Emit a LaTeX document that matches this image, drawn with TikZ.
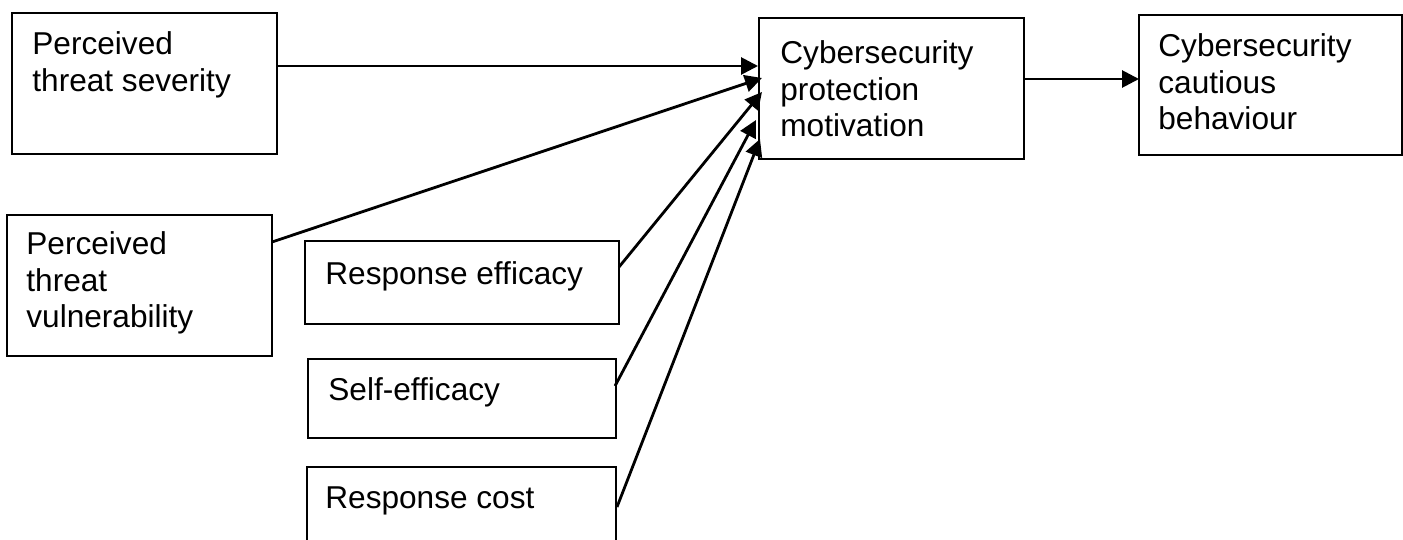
\documentclass[tikz,border=0pt]{standalone}
\usepackage{fontspec}
\setmainfont{Liberation Sans}
\usetikzlibrary{arrows.meta}
\newcommand{\boxfont}{\fontsize{15.8pt}{18.4pt}\selectfont}
\tikzset{
  box/.style={draw, line width=1pt, inner sep=0pt, outer sep=0pt, anchor=north west},
  txt/.style={anchor=north west, inner sep=0pt, align=left, font=\boxfont},
  link/.style={line width=1.4pt, -{Triangle[length=8.5pt,width=8.5pt]}}
}
\begin{document}
\begin{tikzpicture}[x=0.5pt, y=-0.5pt]
  \fill[white] (0,0) rectangle (1403,540);
  \useasboundingbox (0,0) rectangle (1403,540);
  \clip (0,0) rectangle (1403,540);

  % boxes
  \node[box, minimum width=132.5pt, minimum height=70.5pt] (sev) at (12,13) {};
  \node[box, minimum width=132.5pt, minimum height=70.5pt] (vul) at (7,215) {};
  \node[box, minimum width=157pt, minimum height=41.5pt] (reff) at (305,241) {};
  \node[box, minimum width=154pt, minimum height=39.5pt] (seff) at (308,359) {};
  \node[box, minimum width=154.5pt, minimum height=60pt] (cost) at (307,467) {};
  \node[box, minimum width=132.5pt, minimum height=70.5pt] (mot) at (759,18) {};
  \node[box, minimum width=131.5pt, minimum height=70pt] (beh) at (1139,15) {};

  % labels
  \node[txt] (sevt) at (32,31) {Perceived\\threat severity};
  \node[txt] (vult) at (26,231) {Perceived\\threat\\vulnerability};
  \node[txt] (refft) at (325,261) {Response efficacy};
  \node[txt] (sefft) at (328,377) {Self-efficacy};
  \node[txt] (costt) at (325,486) {Response cost};
  \node[txt] (mott) at (780,40) {Cybersecurity\\protection\\motivation};
  \node[txt] (beht) at (1158,33) {Cybersecurity\\cautious\\behaviour};

  % connectors
  \draw[link] ([yshift=-26.5pt]sev.north east) -- ([xshift=-0.5pt,yshift=-24pt]mot.north west);
  \draw[link] ([yshift=-13.5pt]vul.north east) -- ([xshift=1.5pt,yshift=-30pt]mot.north west);
  \draw[link] ([yshift=-13pt]reff.north east) -- ([xshift=1.5pt,yshift=-37pt]mot.north west);
  \draw[link] ([xshift=-0.5pt,yshift=-13.5pt]seff.north east) -- ([xshift=-1.5pt,yshift=-51pt]mot.north west);
  \draw[link] ([xshift=0.5pt,yshift=-20pt]cost.north east) -- ([xshift=0.5pt,yshift=-60.5pt]mot.north west);
  \draw[link] ([yshift=-30.5pt]mot.north east) -- ([yshift=-32pt]beh.north west);
\end{tikzpicture}
\end{document}
